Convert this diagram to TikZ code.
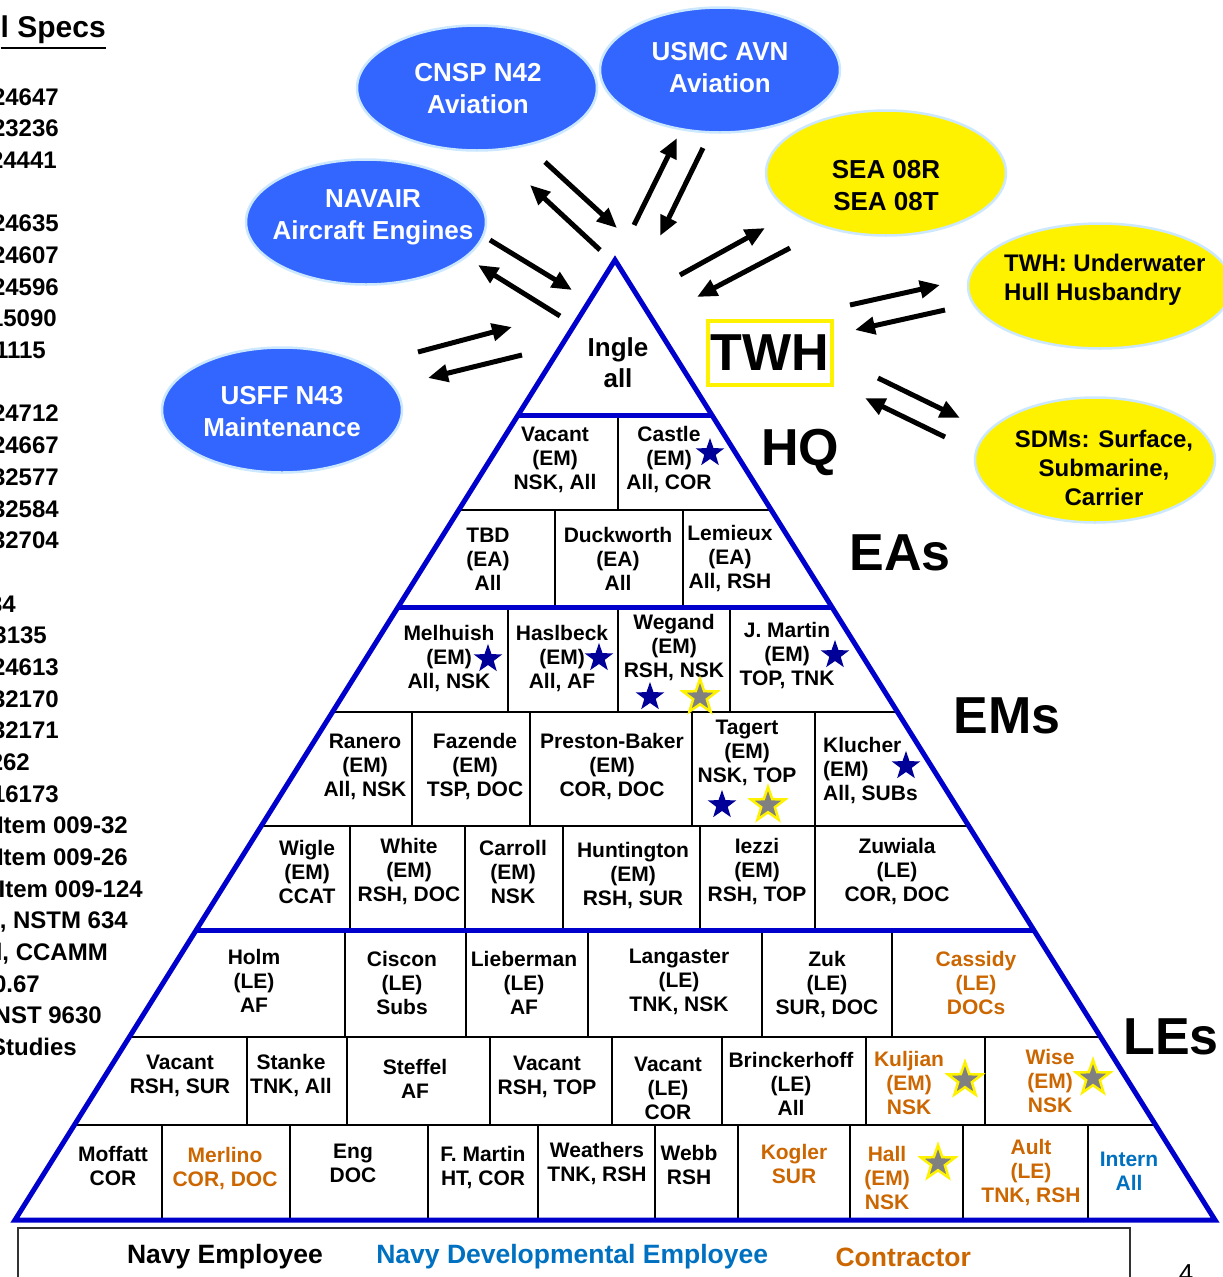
\documentclass[tikz,border=0pt]{standalone}
\usepackage{fontspec}
\setmainfont{Liberation Sans}
\usetikzlibrary{shapes,positioning,arrows.meta,calc}

\definecolor{pyrblue}{RGB}{0,0,204}
\definecolor{bubblue}{RGB}{51,102,255}
\definecolor{bubedge}{RGB}{204,232,255}
\definecolor{contract}{RGB}{204,102,0}
\definecolor{devblue}{RGB}{0,112,192}
\definecolor{starblue}{RGB}{0,0,153}
\definecolor{stargray}{RGB}{128,128,128}

\newcommand{\pyrfont}[2]{\fontsize{#1}{#2}\selectfont\bfseries}

\begin{document}
\begin{tikzpicture}[x=1pt,y=-1pt,
    cell/.style={align=center, inner sep=0pt, yshift=-1pt, font=\pyrfont{21}{24}},
    contr/.style={cell, text=contract},
    tier/.style={inner sep=0pt, font=\pyrfont{52}{52}},
    spec/.style={inner sep=0pt, font=\pyrfont{24}{28}, text height=17pt, text depth=0pt},
    bubble/.style={ellipse, draw=bubedge, line width=2.5pt, inner sep=0pt,
        minimum width=240pt, minimum height=125pt},
    bluebub/.style={bubble, fill=bubblue},
    yellowbub/.style={bubble, fill=yellow},
    bubtxt/.style={align=center, inner sep=0pt, font=\pyrfont{26}{32}},
    divider/.style={black, line width=2.5pt},
    arr/.style={line width=5pt, -{Triangle[length=20pt,width=17pt]}},
    bstar/.style={star, star points=5, star point ratio=2.5, fill=starblue,
        inner sep=0pt, minimum size=30pt},
    gstar/.style={star, star points=5, star point ratio=2.5, fill=stargray,
        draw=yellow, line width=2.5pt, inner sep=0pt, minimum size=36pt},
    legend/.style={inner sep=0pt, font=\pyrfont{26.5}{30}}]

\useasboundingbox (0,0) rectangle (1223,1277);

% spec list, cut at the left edge
\node[inner sep=0pt, font=\pyrfont{30}{34}, anchor=east] (spechead) at (106,30) {l Specs};
\draw[line width=2pt] ($(spechead.south west)+(0,4)$) -- ($(spechead.south east)+(0,4)$);
\foreach \yy/\xe/\txt in {97/59/24647, 128/59/23236, 160/57/24441, 223/59/24635,
    255/59/24607, 287/59/24596, 318/57/15090, 350/46/1115, 413/59/24712,
    445/59/24667, 477/59/32577, 509/59/32584, 540/59/32704, 604/16/34,
    635/47/3135, 667/59/24613, 699/59/32170, 730/59/32171, 762/30/262,
    794/59/16173, 825/128/Item 009-32, 857/128/Item 009-26, 889/143/Item 009-124,
    920/128/{, NSTM 634}, 952/108/{l, CCAMM}, 984/40/0.67, 1015/102/NST 9630,
    1047/77/Studies}
  \node[spec, anchor=east] (spec\yy) at (\xe,\yy) {\txt};

% outside organisations
\node[bluebub] (cnsp) at (477,88) {};
\node[bubtxt, text=white] (cnsptxt) at (478,89) {CNSP N42\\Aviation};
\node[bluebub] (usmc) at (720,70) {};
\node[bubtxt, text=white] (usmctxt) at (720,68) {USMC AVN\\Aviation};
\node[bluebub] (navair) at (366,222) {};
\node[bubtxt, text=white] (navairtxt) at (373,217) {NAVAIR\\Aircraft Engines};
\node[bluebub] (usff) at (282,410) {};
\node[bubtxt, text=white] (usfftxt) at (282,412) {USFF N43\\Maintenance};
\node[yellowbub] (sea) at (886,173) {};
\node[bubtxt] (seatxt) at (886,186) {SEA 08R\\SEA 08T};
\node[yellowbub, minimum width=264pt] (uwhh) at (1100,286) {};
\node[bubtxt, align=left, font=\pyrfont{24}{29}, anchor=west] (uwhhtxt) at (1004,280) {TWH: Underwater\\Hull Husbandry};
\node[yellowbub] (sdms) at (1095,460) {};
\node[bubtxt, font=\pyrfont{24}{29}] (sdmstxt) at (1104,468) {SDMs: Surface,\\Submarine,\\Carrier};

% arrows in and out
\foreach \sx/\sy/\ex/\ey [count=\i] in {545/162/617/228, 600/250/530/185,
    634/225/677/138, 703/148/660/236, 490/240/572/290, 560/316/478/265,
    418/352/512/327, 522/355/428/378, 680/275/765/228, 790/248/697/297,
    850/305/940/285, 945/310/855/330, 878/378/960/418, 945/437/865/398}
{
  \coordinate (from\i) at (\sx,\sy);
  \coordinate (to\i) at (\ex,\ey);
  \draw[arr] (from\i) -- (to\i);
}

% pyramid
\coordinate (apex) at (615,260);
\coordinate (bl) at (15,1220);
\coordinate (br) at (1215,1220);

\foreach \top/\bot/\xs in {415/510/{618}, 510/607/{555,683}, 607/712/{508,618,730},
    712/826/{412,530,692,815}, 826/930/{350,465,563,700,815},
    930/1037/{345,466,588,762,892}, 1037/1125/{247,347,490,612,722,866,985},
    1125/1220/{162,290,428,538,655,738,850,963,1088}}
  \foreach \x in \xs
    \draw[divider] (\x,\top) -- (\x,\bot);

\foreach \yy/\col/\lw in {510/black/2.5pt, 712/black/2.5pt, 826/black/2.5pt,
    1037/black/2.5pt, 1125/black/2.5pt, 415/pyrblue/5pt, 607/pyrblue/5pt, 930/pyrblue/5pt}
  \draw[\col, line width=\lw] ($(apex)!{(\yy-260)/960}!(bl)$) -- ($(apex)!{(\yy-260)/960}!(br)$);

\draw[pyrblue, line width=5pt] (apex) -- (bl) -- (br) -- cycle;

\node[inner sep=0pt, align=center, font=\pyrfont{26}{31}] (ingle) at (618,363) {Ingle\\all};
\node[tier, draw=yellow, line width=4pt, minimum width=124pt, minimum height=64pt] (twh) at (770,353) {TWH};
\node[tier] (hq) at (800,452) {HQ};
\node[tier] (eas) at (900,553) {EAs};
\node[tier] (ems) at (1007,716) {EMs};
\node[tier] (les) at (1171,1037) {LEs};

% HQ
\node[cell] (vacanthq) at (555,459) {Vacant\\(EM)\\NSK, All};
\node[cell] (castle) at (669,459) {Castle\\(EM)\\All, COR};
\node[bstar] (castlestar) at (710,453) {};

% EAs
\node[cell] (tbd) at (488,558) {TBD\\(EA)\\All};
\node[cell] (duckworth) at (618,558) {Duckworth\\(EA)\\All};
\node[cell] (lemieux) at (730,558) {Lemieux\\(EA)\\All, RSH};

% EMs
\node[cell] (melhuish) at (449,658) {Melhuish\\(EM)\\All, NSK};
\node[bstar] (melhuishstar) at (488,659) {};
\node[cell] (haslbeck) at (562,658) {Haslbeck\\(EM)\\All, AF};
\node[bstar] (haslbeckstar) at (599,658) {};
\node[cell] (wegand) at (674,647) {Wegand\\(EM)\\RSH, NSK};
\node[bstar] (wegandstar) at (650,697) {};
\node[gstar] (wegandgstar) at (700,697) {};
\node[cell] (jmartin) at (787,655) {J. Martin\\(EM)\\TOP, TNK};
\node[bstar] (jmartinstar) at (835,655) {};

\node[cell] (ranero) at (365,766) {Ranero\\(EM)\\All, NSK};
\node[cell] (fazende) at (475,766) {Fazende\\(EM)\\TSP, DOC};
\node[cell] (preston) at (612,766) {Preston-Baker\\(EM)\\COR, DOC};
\node[cell] (tagert) at (747,752) {Tagert\\(EM)\\NSK, TOP};
\node[bstar] (tagertstar) at (722,805) {};
\node[gstar] (tagertgstar) at (768,805) {};
\node[cell, align=left, anchor=west] (klucher) at (823,770) {Klucher\\(EM)\\All, SUBs};
\node[bstar] (klucherstar) at (906,766) {};

\node[cell] (wigle) at (307,871) {Wigle\\(EM)\\CCAT};
\node[cell] (white) at (409,871) {White\\(EM)\\RSH, DOC};
\node[cell] (carroll) at (513,871) {Carroll\\(EM)\\NSK};
\node[cell] (huntington) at (633,875) {Huntington\\(EM)\\RSH, SUR};
\node[cell] (iezzi) at (757,871) {Iezzi\\(EM)\\RSH, TOP};
\node[cell] (zuwiala) at (897,871) {Zuwiala\\(LE)\\COR, DOC};

% LEs
\node[cell] (holm) at (254,980) {Holm\\(LE)\\AF};
\node[cell] (ciscon) at (402,982) {Ciscon\\(LE)\\Subs};
\node[cell] (lieberman) at (524,982) {Lieberman\\(LE)\\AF};
\node[cell] (langaster) at (679,981) {Langaster\\(LE)\\TNK, NSK};
\node[cell] (zuk) at (827,984) {Zuk\\(LE)\\SUR, DOC};
\node[contr] (cassidy) at (976,982) {Cassidy\\(LE)\\DOCs};

\node[cell] (vacantle1) at (180,1075) {Vacant\\RSH, SUR};
\node[cell] (stanke) at (291,1075) {Stanke\\TNK, All};
\node[cell] (steffel) at (415,1078) {Steffel\\AF};
\node[cell] (vacantle2) at (547,1076) {Vacant\\RSH, TOP};
\node[cell] (vacantle3) at (668,1087) {Vacant\\(LE)\\COR};
\node[cell] (brinck) at (791,1083) {Brinckerhoff\\(LE)\\All};
\node[contr] (kuljian) at (909,1082) {Kuljian\\(EM)\\NSK};
\node[gstar] (kuljianstar) at (965,1080) {};
\node[contr] (wise) at (1050,1080) {Wise\\(EM)\\NSK};
\node[gstar] (wisestar) at (1093,1078) {};

\node[cell] (moffatt) at (113,1165) {Moffatt\\COR};
\node[contr] (merlino) at (225,1168) {Merlino\\COR, DOC};
\node[cell] (eng) at (353,1162) {Eng\\DOC};
\node[cell] (fmartin) at (483,1167) {F. Martin\\HT, COR};
\node[cell] (weathers) at (597,1163) {Weathers\\TNK, RSH};
\node[cell] (webb) at (689,1164) {Webb\\RSH};
\node[contr] (kogler) at (794,1163) {Kogler\\SUR};
\node[contr] (hall) at (887,1177) {Hall\\(EM)\\NSK};
\node[gstar] (hallstar) at (938,1163) {};
\node[contr] (ault) at (1031,1172) {Ault\\(LE)\\TNK, RSH};
\node[cell, text=devblue] (intern) at (1129,1170) {Intern\\All};

% legend
\draw[black!80, line width=2.5pt] (18,1228) rectangle (1130,1300);
\node[legend] (navyemp) at (225,1257) {Navy Employee};
\node[legend, text=devblue, right=53pt of navyemp] (devemp) {Navy Developmental Employee};
\node[legend, text=contract, right=67pt of devemp] (contractor) {Contractor};
\node[inner sep=0pt, font=\fontsize{26}{30}\selectfont, anchor=north] (pagenum) at (1186,1264) {4};

\end{tikzpicture}
\end{document}
